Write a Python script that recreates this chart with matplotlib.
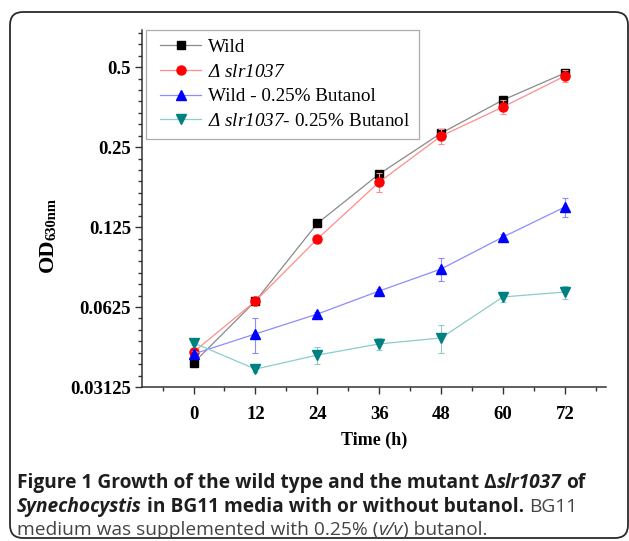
import numpy as np
import matplotlib
matplotlib.use("Agg")
import matplotlib.pyplot as plt
from matplotlib.patches import FancyBboxPatch
from matplotlib.transforms import IdentityTransform
from matplotlib.ticker import FixedLocator, NullFormatter
from matplotlib.legend_handler import HandlerLine2D

plt.rcParams['font.family'] = 'Liberation Serif'
plt.rcParams['mathtext.fontset'] = 'custom'
# the only mathtext is the italic legend part, so rm is italic here
plt.rcParams['mathtext.rm'] = 'Liberation Serif:italic'
plt.rcParams['mathtext.it'] = 'Liberation Serif:italic'
plt.rcParams['mathtext.bf'] = 'Liberation Serif:bold'

# data (OD630nm, log2 axis)
time_h = [0, 12, 24, 36, 48, 60, 72]
wild = [0.0385, 0.0658, 0.129, 0.198, 0.282, 0.376, 0.475]
wild_err = [0.001, 0.001, 0.003, 0.004, 0.005, 0.006, 0.007]
mutant = [0.0423, 0.0658, 0.1127, 0.1846, 0.275, 0.354, 0.4625]
mutant_err = [0.0015, 0.001, 0.004, 0.015, 0.018, 0.021, 0.024]
wild_but = [0.0416, 0.0495, 0.0588, 0.0718, 0.0869, 0.1146, 0.1487]
wild_but_err = [0.001, 0.0074, 0.0012, 0.0015, 0.0083, 0.003, 0.012]
mutant_but = [0.0458, 0.0365, 0.0412, 0.0454, 0.0478, 0.0682, 0.0712]
mutant_but_err = [0.001, 0.001, 0.003, 0.0025, 0.0057, 0.003, 0.004]

yticks = [0.03125, 0.0625, 0.125, 0.25, 0.5]
ytick_labels = ["0.03125", "0.0625", "0.125", "0.25", "0.5"]
xticks = [0, 12, 24, 36, 48, 60, 72]

W, H = 629, 541
fig = plt.figure(figsize=(W / 100, H / 100), dpi=100)
fig.patch.set_facecolor("white")
px = IdentityTransform()

# rounded frame round the whole figure
frame = FancyBboxPatch((10, H - 538), 618, 526,
                       boxstyle="round,pad=0,rounding_size=13",
                       transform=px, fill=False,
                       edgecolor="#2b2b2b", linewidth=1.3)
fig.add_artist(frame)

ax = fig.add_axes([142 / W, 1 - 387 / H, (606 - 142) / W, (387 - 30) / H])

series = [
    (wild, wild_err, "s", "black", "#8a8a8a", "Wild", 5.5),
    (mutant, mutant_err, "o", "red", "#ff8c8c", r"$Δ\ slr1037$", 6.5),
    (wild_but, wild_but_err, "^", "blue", "#8c8cff", "Wild - 0.25% Butanol", 7),
    (mutant_but, mutant_but_err, "v", "#008080", "#8ccccc",
     r"$Δ\ slr1037$- 0.25% Butanol", 7),
]
handles = []
for vals, err, mk, mc, lc, lab, ms in series:
    ax.errorbar(time_h, vals, yerr=err, fmt="none", ecolor=lc,
                elinewidth=0.8, capsize=2.5, capthick=0.8)
    h, = ax.plot(time_h, vals, color=lc, lw=0.9, marker=mk, ms=ms,
                 mfc=mc, mec=mc, label=lab)
    handles.append(h)

ax.set_yscale("log", base=2)
ax.set_ylim(0.03125, 0.69)
ax.set_xlim(-10, 80)
ax.yaxis.set_major_locator(FixedLocator(yticks))
ax.set_yticklabels(ytick_labels)
minor = [v * 2 ** (k / 7) for v in [0.015625] + yticks for k in range(1, 7)]
ax.yaxis.set_minor_locator(FixedLocator(minor))
ax.yaxis.set_minor_formatter(NullFormatter())
ax.set_xticks(xticks)
ax.set_xticks(np.arange(-6, 80, 12), minor=True)

for s in ["top", "right"]:
    ax.spines[s].set_visible(False)
for s in ["left", "bottom"]:
    ax.spines[s].set_linewidth(1.1)
    ax.spines[s].set_color("#333333")

ax.tick_params(axis="both", which="major", direction="out", length=5,
               width=1, color="#333333", labelsize=13.5, pad=3)
ax.tick_params(axis="both", which="minor", direction="out", length=3,
               width=1, color="#333333")
ax.tick_params(axis="x", which="major", pad=9)
for lbl in ax.get_xticklabels() + ax.get_yticklabels():
    lbl.set_fontweight("bold")

ax.set_xlabel("Time (h)", fontsize=13, fontweight="bold", labelpad=6)

# y label OD with a large subscript, written as two rotated pieces
fig.text(53, H - 272, "OD", fontsize=16, fontweight="bold", rotation=90,
         rotation_mode="anchor", ha="left", va="baseline", transform=px)
fig.text(56, H - 240, "630nm", fontsize=10.5, fontweight="bold", rotation=90,
         rotation_mode="anchor", ha="left", va="baseline", transform=px)

leg = ax.legend(handles=handles, loc="upper left", bbox_to_anchor=(0.008, 1.0),
                fontsize=13.8, frameon=True, fancybox=False, handlelength=2.45,
                handletextpad=0.36, borderpad=0.45, labelspacing=0.38,
                borderaxespad=0,
                handler_map={h: HandlerLine2D(xpad=0.3) for h in handles})
leg.get_frame().set_edgecolor("#999999")
leg.get_frame().set_linewidth(0.9)

# caption with mixed styles
renderer = fig.canvas.get_renderer()
cap_font = "Open Sans"


def text_width(s, weight, style, size):
    t = fig.text(0, 0, s, fontsize=size, fontweight=weight,
                 fontstyle=style, family=cap_font)
    w = t.get_window_extent(renderer).width
    t.remove()
    return w


caption = [
    [("Figure 1 Growth of the wild type and the mutant Δ", "bold", "normal", False),
     ("slr1037", "bold", "italic", True),
     ("of", "bold", "normal", False)],
    [("Synechocystis", "bold", "italic", True),
     ("in BG11 media with or without butanol.", "bold", "normal", True),
     ("BG11", "normal", "normal", False)],
    [("medium was supplemented with 0.25% (", "normal", "normal", False),
     ("v/v", "normal", "italic", False),
     (") butanol.", "normal", "normal", False)],
]

# size the caption so the first line runs from x=17 to x=583 as in the figure
base = 12
space_w = (text_width("a a", "normal", "normal", base)
           - text_width("aa", "normal", "normal", base))
first = sum(text_width(t, w, s, base) + (space_w if g else 0)
            for t, w, s, g in caption[0])
cap_size = base * 566 / first
space_w *= cap_size / base

line_y = [483, 507, 530]
for parts, yy in zip(caption, line_y):
    x = 17
    for txt, weight, style, gap in parts:
        color = "#1e1e1e" if weight == "bold" else "#444444"
        t = fig.text(x, H - yy, txt, fontsize=cap_size, fontweight=weight,
                     fontstyle=style, family=cap_font, color=color,
                     va="center", ha="left", transform=px)
        x += t.get_window_extent(renderer).width + (space_w if gap else 0)

fig.savefig("out.png", dpi=100, facecolor="white")
